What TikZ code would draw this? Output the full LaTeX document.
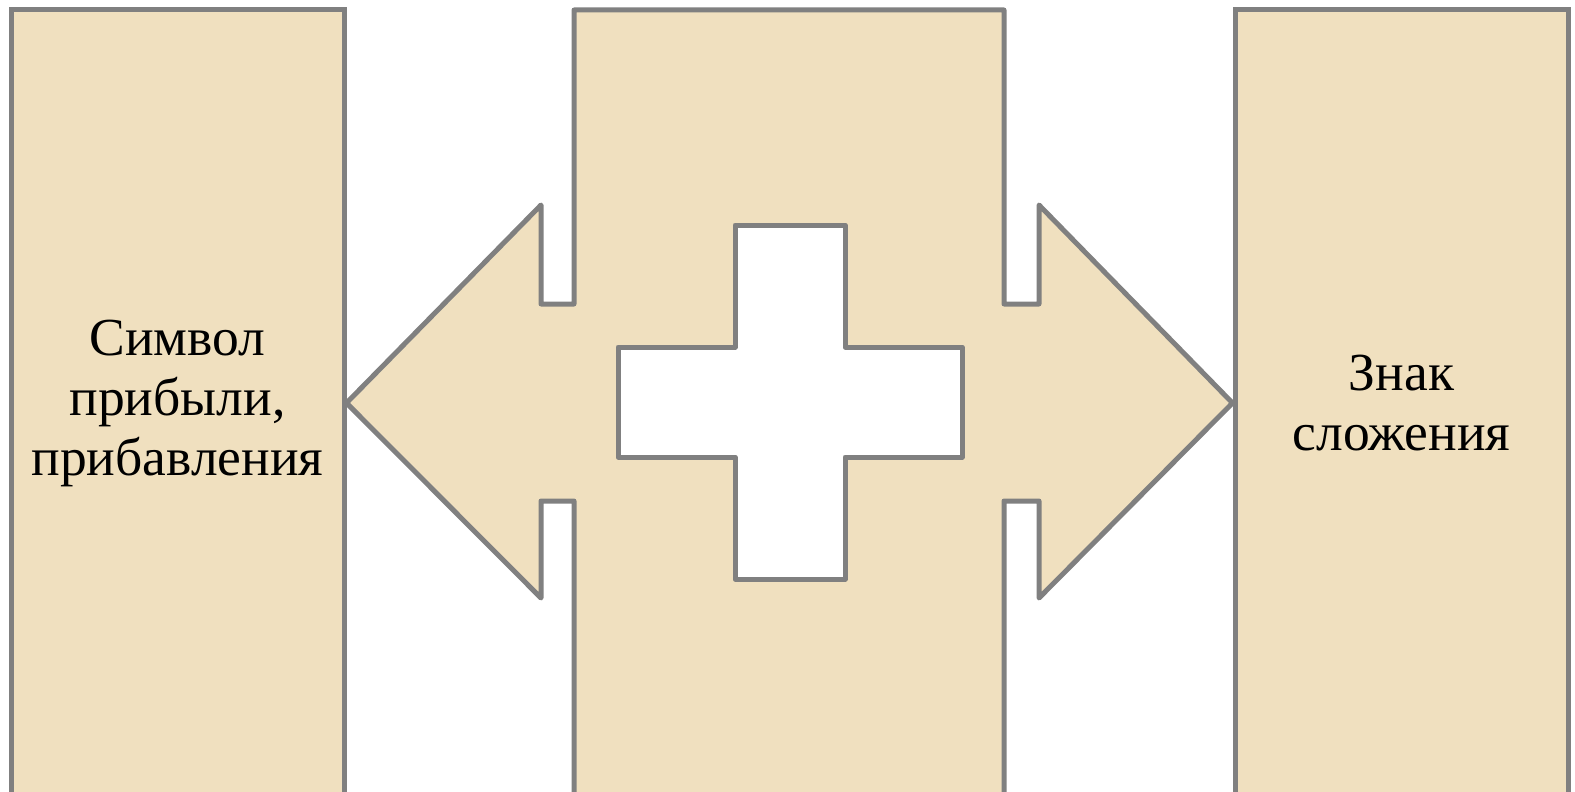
\documentclass[tikz,border=0pt]{standalone}
\usepackage{fontspec}
\setmainfont{Liberation Serif}
\usetikzlibrary{positioning}
\definecolor{Parch}{HTML}{F0E0BF}
\definecolor{Edge}{HTML}{808080}
\tikzset{
    panel/.style={rectangle, draw=Edge, fill=Parch, line width=5pt, minimum width=333pt, minimum height=786pt, inner sep=0pt, align=center, text=black, font=\fontsize{53.5}{60}\selectfont},
    arrowbody/.style={draw=Edge, fill=Parch, line width=5pt, line join=round},
    plus/.style={draw=Edge, fill=white, line width=5pt, line join=round},
}
\begin{document}
\begin{tikzpicture}[x=1pt, y=-1pt]
    \useasboundingbox (0,0) rectangle (1575,792);
    \clip (0,0) rectangle (1575,792);

    % Боковые панели
    \node[panel] (symbol) at (177.5,403) {Символ\\прибыли,\\прибавления};
    \node[panel] (sign) at (1401.5,403) {Знак\\сложения};

    % Центральная панель со стрелками
    \draw[arrowbody] (574,10) -- (1004,10) -- (1004,304) -- (1039,304) -- (1039,205)
        -- (sign.west) -- (1039,598) -- (1039,501) -- (1004,501) -- (1004,805)
        -- (574,805) -- (574,501) -- (541,501) -- (541,598) -- (symbol.east)
        -- (541,205) -- (541,304) -- (574,304) -- cycle;

    % Плюс
    \draw[plus] (735,225) -- (845,225) -- (845,347) -- (962,347) -- (962,457)
        -- (845,457) -- (845,579) -- (735,579) -- (735,457) -- (618,457)
        -- (618,347) -- (735,347) -- cycle;
\end{tikzpicture}
\end{document}
